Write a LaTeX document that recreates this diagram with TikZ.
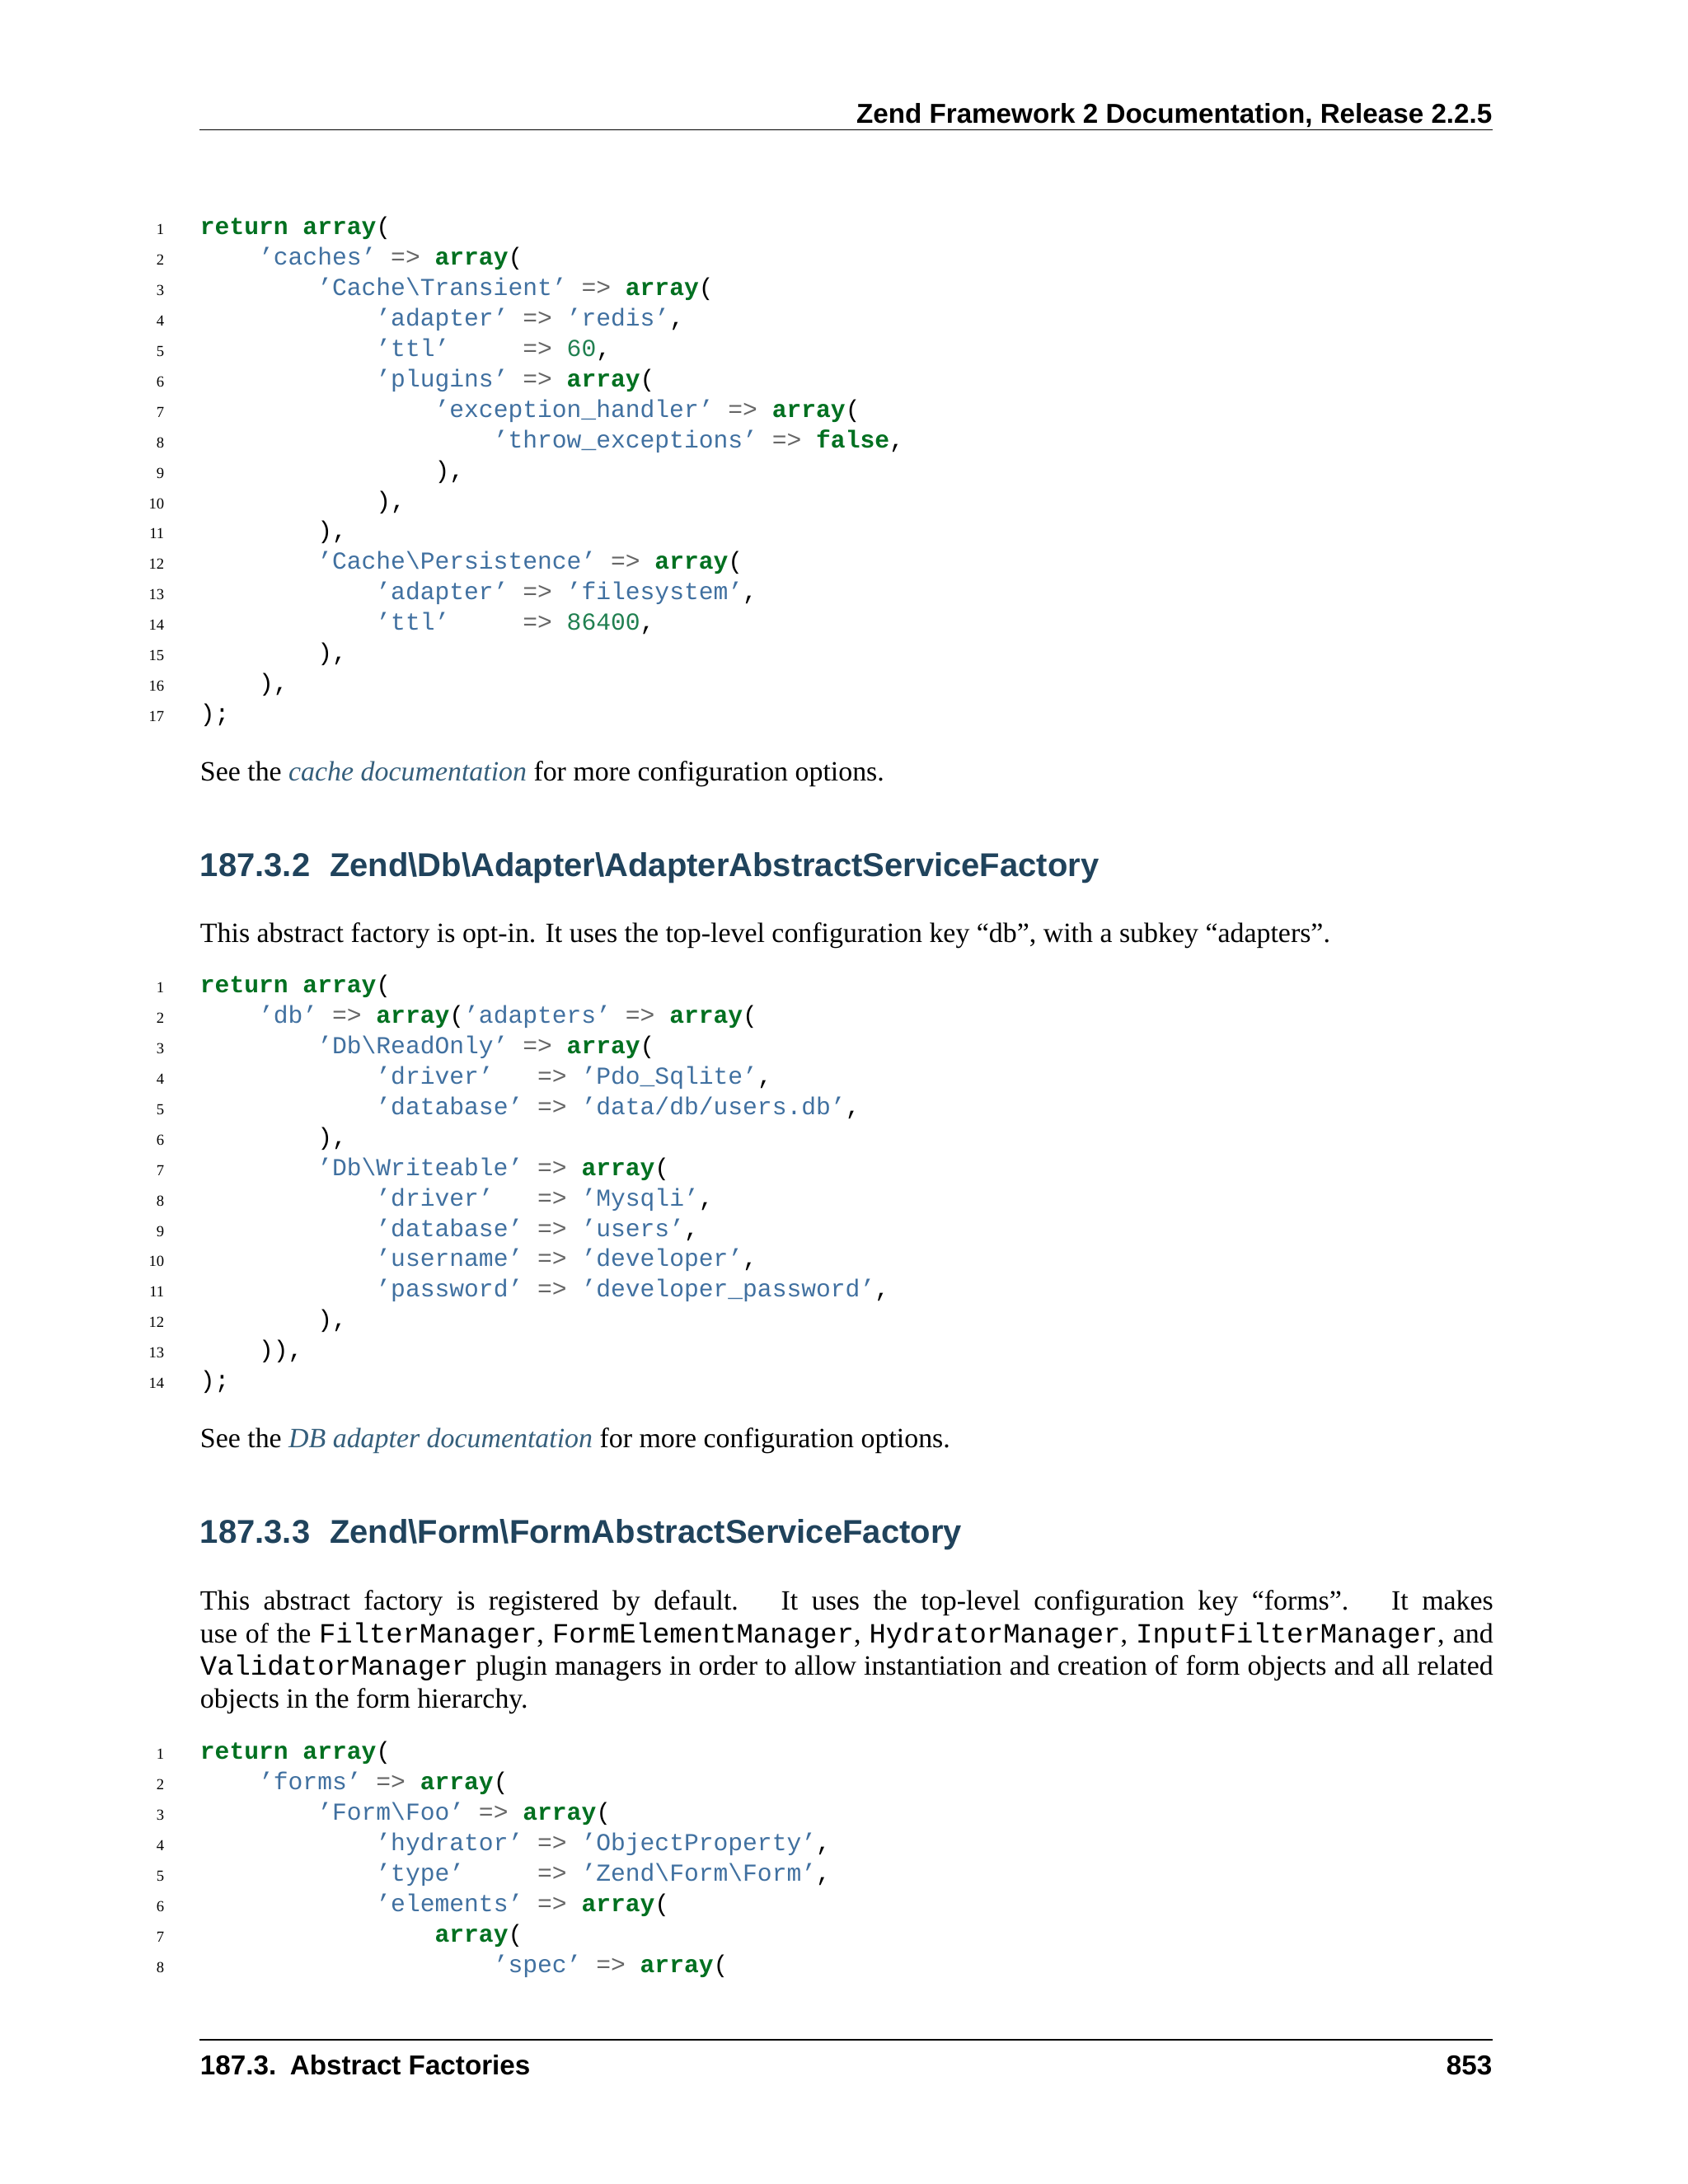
\documentclass[tikz,border=0pt]{standalone}
\usepackage{fontspec}
\setmainfont{Liberation Serif}
\setsansfont{Liberation Sans}
\setmonofont{Liberation Mono}
\definecolor{kwc}{HTML}{007020}
\definecolor{strc}{HTML}{4070A0}
\definecolor{opc}{HTML}{666666}
\definecolor{numc}{HTML}{208050}
\definecolor{headc}{HTML}{20435C}
\definecolor{linkc}{HTML}{355F7C}
\newcommand\q[1]{\textcolor{strc}{’#1’}}
\newcommand\ar{\textcolor{kwc}{\bfseries array}}
\newcommand\kw[1]{\textcolor{kwc}{\bfseries #1}}
\newcommand\ga{\textcolor{opc}{=>}}
\newcommand\nm[1]{\textcolor{numc}{#1}}
\newcommand\bs{\textbackslash}
\tikzset{
 codeln/.style={anchor=base west,inner sep=0pt,font=\fontsize{8.75}{10}\ttfamily},
 lnum/.style={anchor=base east,inner sep=0pt,font=\fontsize{5.5}{6}\selectfont},
 body/.style={anchor=base west,inner sep=0pt,font=\fontsize{10}{12}\selectfont},
 head/.style={anchor=base west,inner sep=0pt,font=\fontsize{11.8}{14}\sffamily\bfseries,text=headc},
 runhead/.style={inner sep=0pt,font=\fontsize{9.8}{12}\sffamily\bfseries},
}
\newcommand\mycodeline[4]{% name, y, number, text
 \node[lnum] (#1n) at (59,#2) {#3};
 \node[codeln] (#1) at (71.5,#2) {#4};}
\begin{document}
\begin{tikzpicture}[x=1pt,y=-1pt]
\useasboundingbox (0,0) rectangle (604.35,782.1);
\fill[white] (0,0) rectangle (604.35,782.1);
% running header
\node[runhead,anchor=base east] (hdr) at (534.5,44) {Zend Framework 2 Documentation, Release 2.2.5};
\coordinate (hl) at (71.5,46.5); \coordinate (hr) at (534.5,46.5);
\draw[line width=0.5pt] (hl) -- (hr);
% block 1
\def\dy{10.9}
\foreach \i/\t in {
 1/{\kw{return} \ar(},
 2/{~~~~\q{caches} \ga{} \ar(},
 3/{~~~~~~~~\q{Cache\bs Transient} \ga{} \ar(},
 4/{~~~~~~~~~~~~\q{adapter} \ga{} \q{redis},},
 5/{~~~~~~~~~~~~\q{ttl}~~~~~\ga{} \nm{60},},
 6/{~~~~~~~~~~~~\q{plugins} \ga{} \ar(},
 7/{~~~~~~~~~~~~~~~~\q{exception\_handler} \ga{} \ar(},
 8/{~~~~~~~~~~~~~~~~~~~~\q{throw\_exceptions} \ga{} \kw{false},},
 9/{~~~~~~~~~~~~~~~~),},
 10/{~~~~~~~~~~~~),},
 11/{~~~~~~~~),},
 12/{~~~~~~~~\q{Cache\bs Persistence} \ga{} \ar(},
 13/{~~~~~~~~~~~~\q{adapter} \ga{} \q{filesystem},},
 14/{~~~~~~~~~~~~\q{ttl}~~~~~\ga{} \nm{86400},},
 15/{~~~~~~~~),},
 16/{~~~~),},
 17/{);}}
 {\pgfmathsetmacro\yy{84+(\i-1)*\dy}\mycodeline{a\i}{\yy}{\i}{\t}}
\node[body] (p1) at (71.5,279.5) {See the \textcolor{linkc}{\itshape cache documentation} for more configuration options.};
\node[head] (h2) at (71.5,314) {187.3.2\hspace{0.6em}Zend\bs Db\bs Adapter\bs AdapterAbstractServiceFactory};
\node[body] (p2) at (71.5,337.5) {This abstract factory is opt-in. It uses the top-level configuration key “db”, with a subkey “adapters”.};
% block 2
\foreach \i/\t in {
 1/{\kw{return} \ar(},
 2/{~~~~\q{db} \ga{} \ar(\q{adapters} \ga{} \ar(},
 3/{~~~~~~~~\q{Db\bs ReadOnly} \ga{} \ar(},
 4/{~~~~~~~~~~~~\q{driver}~~~\ga{} \q{Pdo\_Sqlite},},
 5/{~~~~~~~~~~~~\q{database} \ga{} \q{data/db/users.db},},
 6/{~~~~~~~~),},
 7/{~~~~~~~~\q{Db\bs Writeable} \ga{} \ar(},
 8/{~~~~~~~~~~~~\q{driver}~~~\ga{} \q{Mysqli},},
 9/{~~~~~~~~~~~~\q{database} \ga{} \q{users},},
 10/{~~~~~~~~~~~~\q{username} \ga{} \q{developer},},
 11/{~~~~~~~~~~~~\q{password} \ga{} \q{developer\_password},},
 12/{~~~~~~~~),},
 13/{~~~~)),},
 14/{);}}
 {\pgfmathsetmacro\yy{355.5+(\i-1)*\dy}\mycodeline{b\i}{\yy}{\i}{\t}}
\node[body] (p3) at (71.5,518.5) {See the \textcolor{linkc}{\itshape DB adapter documentation} for more configuration options.};
\node[head] (h3) at (71.5,552.5) {187.3.3\hspace{0.6em}Zend\bs Form\bs FormAbstractServiceFactory};
\node[body] (p4a) at (71.5,576.5) {\makebox[463pt][s]{This abstract factory is registered by default. \ It uses the top-level configuration key “forms”. \ It makes}};
\node[body] (p4b) at (71.5,588.2) {\makebox[463pt][s]{use of the \texttt{FilterManager}, \texttt{FormElementManager}, \texttt{HydratorManager}, \texttt{InputFilterManager}, and}};
\node[body] (p4c) at (71.5,599.9) {\makebox[463pt][s]{\texttt{ValidatorManager} plugin managers in order to allow instantiation and creation of form objects and all related}};
\node[body] (p4d) at (71.5,611.6) {objects in the form hierarchy.};
% block 3
\foreach \i/\t in {
 1/{\kw{return} \ar(},
 2/{~~~~\q{forms} \ga{} \ar(},
 3/{~~~~~~~~\q{Form\bs Foo} \ga{} \ar(},
 4/{~~~~~~~~~~~~\q{hydrator} \ga{} \q{ObjectProperty},},
 5/{~~~~~~~~~~~~\q{type}~~~~~\ga{} \q{Zend\bs Form\bs Form},},
 6/{~~~~~~~~~~~~\q{elements} \ga{} \ar(},
 7/{~~~~~~~~~~~~~~~~\ar(},
 8/{~~~~~~~~~~~~~~~~~~~~\q{spec} \ga{} \ar(}}
 {\pgfmathsetmacro\yy{630+(\i-1)*\dy}\mycodeline{c\i}{\yy}{\i}{\t}}
% footer
\coordinate (fl) at (71.5,730.5); \coordinate (fr) at (534.5,730.5);
\draw[line width=0.5pt] (fl) -- (fr);
\node[runhead,anchor=base west] (ftl) at (71.5,743) {187.3.\hspace{0.5em}Abstract Factories};
\node[runhead,anchor=base east] (ftr) at (534.5,743) {853};
\end{tikzpicture}
\end{document}
